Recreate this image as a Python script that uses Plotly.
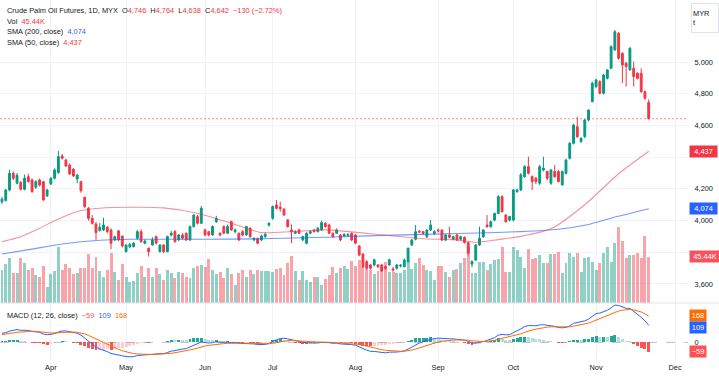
import plotly.graph_objects as go

# ---------------- data ----------------
n_bars = 173
bar_index = list(range(n_bars))

opens = [4118, 4127, 4193, 4298, 4235, 4240, 4197, 4277, 4256, 4210, 4256, 4245, 4155, 4230, 4267, 4302, 4407, 4382, 4350, 4324,
         4262, 4245, 4147, 4078, 4014, 3978, 3937, 3941, 3958, 3941, 3878, 3935, 3902, 3804, 3835, 3836, 3888, 3930, 3857, 3825,
         3846, 3899, 3804, 3846, 3804, 3909, 3930, 3878, 3909, 3920, 3878, 3962, 4025, 3983, 3941, 3930, 3909, 3993, 3920, 3962,
         3920, 3993, 3930, 3920, 3930, 3909, 3951, 3878, 3888, 3878, 3899, 3972, 4014, 4098, 4085, 4071, 4004, 3941, 3920, 3941,
         3878, 3857, 3920, 3941, 3930, 3941, 3983, 3972, 3920, 3920, 3909, 3903, 3905, 3920, 3909, 3840, 3789, 3741, 3720, 3720,
         3720, 3720, 3709, 3720, 3695, 3699, 3713, 3709, 3741, 3846, 3882, 3932, 3930, 3898, 3940, 3919, 3940, 3940, 3877, 3909,
         3882, 3909, 3882, 3894, 3861, 3725, 3751, 3846, 3898, 3972, 3961, 4003, 4045, 4151, 4035, 4003, 4003, 4182, 4193, 4277,
         4340, 4277, 4267, 4235, 4319, 4309, 4235, 4309, 4309, 4225, 4298, 4393, 4487, 4592, 4498, 4529, 4634, 4750, 4845, 4876,
         4803, 4897, 4960, 5076, 5181, 5055, 4992, 4950, 4960, 4929, 4929, 4813, 4746]
highs = [4150, 4200, 4320, 4310, 4300, 4250, 4290, 4295, 4265, 4255, 4265, 4250, 4200, 4275, 4330, 4439, 4420, 4390, 4360, 4330,
         4295, 4250, 4150, 4085, 4035, 3990, 3985, 4018, 3965, 3950, 3905, 3940, 3905, 3850, 3860, 3865, 3940, 3945, 3880, 3830,
         3895, 3905, 3850, 3850, 3905, 3935, 3940, 3915, 3920, 3925, 3970, 4040, 4035, 4092, 3950, 3935, 3970, 4030, 3925, 3970,
         3975, 4000, 3950, 3925, 3940, 3965, 3960, 3895, 3890, 3910, 3925, 3990, 4095, 4130, 4119, 4080, 4010, 3975, 3940, 3950,
         3905, 3925, 3940, 3945, 3960, 4000, 3990, 3980, 3925, 3950, 3915, 3920, 3920, 3925, 3915, 3845, 3795, 3750, 3725, 3760,
         3725, 3725, 3715, 3760, 3709, 3725, 3725, 3760, 3830, 3885, 3972, 3940, 3935, 3945, 4003, 3940, 3950, 3945, 3915, 3961,
         3905, 3915, 3905, 3900, 3865, 3750, 3850, 3961, 3945, 4035, 4000, 4050, 4160, 4160, 4040, 4030, 4200, 4200, 4300, 4350,
         4403, 4285, 4275, 4351, 4403, 4315, 4325, 4351, 4320, 4315, 4390, 4495, 4610, 4655, 4525, 4640, 4700, 4875, 4895, 4885,
         4925, 4955, 5105, 5202, 5190, 5060, 5000, 5095, 5002, 4935, 4960, 4820, 4764]
lows = [4105, 4120, 4185, 4255, 4228, 4190, 4190, 4240, 4175, 4200, 4215, 4125, 4150, 4225, 4260, 4295, 4385, 4338, 4288, 4275,
        4235, 4175, 4080, 4000, 3975, 3878, 3930, 3935, 3920, 3819, 3870, 3870, 3830, 3798, 3825, 3830, 3880, 3860, 3850, 3773,
        3840, 3850, 3798, 3795, 3800, 3900, 3860, 3870, 3880, 3870, 3870, 3955, 3975, 3980, 3900, 3900, 3905, 3985, 3900, 3915,
        3915, 3935, 3920, 3870, 3900, 3905, 3890, 3870, 3850, 3870, 3890, 3960, 4005, 4070, 4055, 4030, 3955, 3857, 3915, 3915,
        3870, 3850, 3915, 3925, 3925, 3935, 3955, 3915, 3890, 3915, 3870, 3895, 3900, 3870, 3850, 3775, 3700, 3690, 3690, 3710,
        3700, 3675, 3690, 3715, 3678, 3690, 3705, 3705, 3735, 3840, 3875, 3920, 3910, 3890, 3935, 3910, 3925, 3870, 3870, 3888,
        3875, 3870, 3875, 3855, 3780, 3705, 3745, 3840, 3890, 3955, 3955, 3995, 4040, 4050, 3985, 3995, 3995, 4175, 4185, 4270,
        4290, 4193, 4230, 4225, 4310, 4255, 4225, 4270, 4240, 4220, 4290, 4385, 4480, 4520, 4490, 4520, 4625, 4745, 4835, 4795,
        4795, 4890, 4955, 5070, 5015, 4866, 4845, 4945, 4845, 4890, 4805, 4760, 4638]
closes = [4135, 4193, 4298, 4267, 4285, 4197, 4267, 4245, 4182, 4245, 4224, 4130, 4193, 4267, 4319, 4403, 4393, 4344, 4294, 4281,
          4287, 4188, 4088, 4014, 3983, 3924, 3958, 3972, 3930, 3857, 3898, 3878, 3840, 3846, 3850, 3857, 3930, 3867, 3871, 3804,
          3878, 3857, 3846, 3804, 3899, 3920, 3867, 3909, 3888, 3878, 3962, 4035, 3983, 4077, 3909, 3909, 3962, 4014, 3909, 3920,
          3962, 3941, 3941, 3878, 3909, 3962, 3899, 3888, 3857, 3903, 3913, 3983, 4088, 4077, 4075, 4035, 3962, 3930, 3930, 3920,
          3899, 3920, 3930, 3930, 3951, 3987, 3962, 3920, 3899, 3941, 3878, 3913, 3913, 3878, 3857, 3783, 3709, 3699, 3699, 3752,
          3709, 3684, 3699, 3752, 3688, 3720, 3718, 3751, 3825, 3877, 3930, 3928, 3919, 3940, 3972, 3930, 3935, 3877, 3909, 3894,
          3898, 3877, 3898, 3861, 3795, 3741, 3846, 3888, 3940, 3961, 3993, 4045, 4151, 4056, 3993, 4025, 4193, 4193, 4288, 4340,
          4298, 4246, 4246, 4340, 4330, 4267, 4319, 4277, 4246, 4309, 4382, 4487, 4603, 4529, 4519, 4634, 4697, 4866, 4887, 4803,
          4918, 4950, 5097, 5191, 5023, 4981, 4971, 5086, 4908, 4897, 4813, 4772, 4642]
volumes_k = [32, 38, 44, 29, 29, 44, 39, 32, 34, 27, 26, 36, 16, 28, 31, 55, 32, 38, 34, 28,
             29, 34, 34, 48, 34, 45, 31, 26, 32, 49, 30, 23, 38, 26, 21,
             22, 29, 36, 26, 34, 26, 34, 28, 23, 32, 29, 25, 30, 29, 26, 25, 34, 36, 37, 35,
             43, 32, 28, 30, 25, 34, 28, 18, 29, 32, 26, 32, 28, 32,
             31, 31, 31, 30, 33, 34, 27, 39, 46, 31, 23, 31, 23, 21, 26, 26, 18, 24, 27, 35,
             29, 34, 36, 33, 41, 36, 42, 35, 33, 32, 28, 31, 35, 40,
             30, 30, 29, 29, 32, 41, 33, 39, 44, 37, 32, 31, 23, 36, 36, 30, 26, 32, 33, 39,
             44, 55, 29, 29, 40, 40, 32, 38, 42, 43, 55, 30, 30, 55, 52,
             45.5, 34, 52.7, 42.9, 43.8, 47.1, 39.6, 38.9, 48.1, 48.1, 50.4, 29.1, 39.6, 48.7, 44.8,
             48.7, 30.8, 43.8, 45.5, 40.6, 32.4, 38.9, 48.7, 55.3, 40.6, 58.5, 74.2, 61.2, 43.8, 46.8,
             46.8, 49.4, 44.5, 65.7, 45.44]

# moving averages (bar index -> value)
sma200_idx = [0, 8, 16, 26, 34, 52, 69, 86, 104, 121, 138, 148, 156, 162, 172]
sma200_val = [3789, 3820, 3852, 3876, 3882, 3882, 3885, 3895, 3908, 3918, 3930, 3945, 3975, 4015, 4074]
sma50_idx = [0, 5, 10, 15, 21, 26, 34, 43, 52, 61, 69, 77, 86, 95, 104, 112, 121, 126, 132, 138, 146, 155, 164, 172]
sma50_val = [3867, 3898, 3951, 4010, 4063, 4078, 4084, 4080, 4046, 3983, 3924, 3930, 3941, 3924, 3903, 3885, 3878, 3862,
             3880, 3900, 3948, 4100, 4295, 4437]

# MACD state before the first visible bar
ema12_seed = 4085
ema26_seed = 4027
signal_seed = 48

month_ticks = [13, 33, 54, 72, 94, 116, 136, 158, 179]
month_labels = ["Apr", "May", "Jun", "Jul", "Aug", "Sep", "Oct", "Nov", "Dec"]
price_ticks = [3600, 3800, 4000, 4200, 4400, 4600, 4800, 5000]
# 3,800 and 4,400 sit behind the value badges on the reference scale
price_labels = ["3,600", "", "4,000", "4,200", "", "4,600", "4,800", "5,000"]

last_close = 4642
macd_last, signal_last, hist_last = 109, 168, -59

# ---------------- styling ----------------
UP = "#089981"
DOWN = "#F23645"
TXT = "#131722"
FONT = "Liberation Sans, Arial, sans-serif"
FS = 7.4
W, H = 719, 379
PLOT_RIGHT = 688 / W
PRICE_DOM = [1 - 303 / H, 1]
MACD_DOM = [1 - 362 / H, 1 - 303 / H]


def ema(values, period, seed):
    k = 2.0 / (period + 1)
    out, prev = [], seed
    for v in values:
        prev = prev + k * (v - prev)
        out.append(prev)
    return out


ema12 = ema(closes, 12, ema12_seed)
ema26 = ema(closes, 26, ema26_seed)
macd_line = [a - b for a, b in zip(ema12, ema26)]
signal_line = ema(macd_line, 9, signal_seed)
hist = [m - s for m, s in zip(macd_line, signal_line)]
hist_colors = []
prev = hist[0]
for h in hist:
    if h >= 0:
        hist_colors.append("#26A69A" if h >= prev else "#B2DFDB")
    else:
        hist_colors.append("#FF5252" if h <= prev else "#FFCDD2")
    prev = h

vol_colors = ["rgba(8,153,129,0.45)" if c >= o else "rgba(242,54,69,0.45)" for o, c in zip(opens, closes)]

fig = go.Figure()
fig.add_trace(go.Bar(x=bar_index, y=volumes_k, marker=dict(color=vol_colors, line=dict(width=0)),
                     width=0.78, xaxis="x", yaxis="y", hoverinfo="skip"))
fig.add_trace(go.Scatter(x=sma200_idx, y=sma200_val, mode="lines",
                         line=dict(color="rgba(41,98,255,0.65)", width=1.1, shape="spline", smoothing=0.6),
                         xaxis="x", yaxis="y3", hoverinfo="skip"))
fig.add_trace(go.Scatter(x=sma50_idx, y=sma50_val, mode="lines",
                         line=dict(color="rgba(242,54,69,0.55)", width=1.1, shape="spline", smoothing=0.6),
                         xaxis="x", yaxis="y3", hoverinfo="skip"))
fig.add_trace(go.Candlestick(x=bar_index, open=opens, high=highs, low=lows, close=closes,
                             increasing=dict(line=dict(color=UP, width=1), fillcolor=UP),
                             decreasing=dict(line=dict(color=DOWN, width=1), fillcolor=DOWN),
                             xaxis="x", yaxis="y3", hoverinfo="skip"))
fig.add_trace(go.Bar(x=bar_index, y=hist, marker=dict(color=hist_colors, line=dict(width=0)),
                     width=0.78, xaxis="x2", yaxis="y2", hoverinfo="skip"))
fig.add_trace(go.Scatter(x=bar_index, y=macd_line, mode="lines", line=dict(color="#2962FF", width=1),
                         xaxis="x2", yaxis="y2", hoverinfo="skip"))
fig.add_trace(go.Scatter(x=bar_index, y=signal_line, mode="lines", line=dict(color="#FF6D00", width=1),
                         xaxis="x2", yaxis="y2", hoverinfo="skip"))

xcommon = dict(range=[-0.53, 182.45], domain=[0, PLOT_RIGHT], tickvals=month_ticks, ticktext=month_labels,
               showgrid=True, gridcolor="#F0F3FA", gridwidth=1, zeroline=False, showline=False,
               rangeslider=dict(visible=False), fixedrange=True)

fig.update_layout(
    width=W, height=H, margin=dict(l=0, r=0, t=0, b=0),
    paper_bgcolor="white", plot_bgcolor="white", showlegend=False,
    font=dict(family=FONT, size=FS, color=TXT),
    bargap=0, hovermode=False,
    xaxis=dict(**xcommon, anchor="y", showticklabels=False),
    xaxis2=dict(**xcommon, anchor="y2", matches="x", showticklabels=True, ticks="",
                tickfont=dict(size=FS, color=TXT, family=FONT)),
    yaxis=dict(domain=PRICE_DOM, range=[0, 297.4], visible=False, showgrid=False, anchor="x", fixedrange=True),
    yaxis3=dict(overlaying="y", anchor="x", side="right", range=[3480, 5391], tickvals=price_ticks,
                ticktext=price_labels, showgrid=True, gridcolor="#F0F3FA", zeroline=False, showline=False,
                ticks="outside", ticklen=4, tickcolor="rgba(0,0,0,0)",
                tickfont=dict(size=FS, color=TXT, family=FONT), fixedrange=True),
    yaxis2=dict(domain=MACD_DOM, anchor="x2", side="right", range=[-124, 250], tickvals=[0], ticktext=["0"],
                showgrid=False, zeroline=False, showline=False, ticks="outside", ticklen=4,
                tickcolor="rgba(0,0,0,0)", tickfont=dict(size=FS, color=TXT, family=FONT), fixedrange=True),
)

shapes = [
    # last price dotted line
    dict(type="line", xref="x", yref="y3", x0=-0.53, x1=182.45, y0=last_close, y1=last_close,
         line=dict(color="rgba(242,54,69,0.7)", width=0.8, dash="2px,2px")),
    # MACD zero line
    dict(type="line", xref="x2", yref="y2", x0=-0.53, x1=182.45, y0=0, y1=0,
         line=dict(color="rgba(120,123,134,0.45)", width=1, dash="dash")),
    # pane separator
    dict(type="line", xref="paper", yref="paper", x0=0, x1=1, y0=PRICE_DOM[0], y1=PRICE_DOM[0],
         line=dict(color="#E0E3EB", width=1)),
]
fig.update_layout(shapes=shapes)

R = "#F23645"


def span(t, c):
    return '<span style="color:%s">%s</span>' % (c, t)


sp = "&nbsp;"
legend_lines = [
    ("Crude Palm Oil Futures, 1D, MYX" + sp * 2 + "O" + span("4,746", R) + sp + " H" + span("4,764", R) + sp +
     " L" + span("4,638", R) + sp + " C" + span("4,642", R) + sp + " " + span("−130 (−2.72%)", R), 11),
    ("Vol" + sp + " " + span("45.44K", R), 21.5),
    ("SMA (200, close)" + sp + " " + span("4,074", "#2962FF"), 32),
    ("SMA (50, close)" + sp + " " + span("4,437", R), 42.5),
    ("MACD (12, 26, close)" + sp + " " + span("−59", "#FF5252") + sp + " " + span("109", "#2962FF") + sp + " " +
     span("168", "#FF6D00"), 315),
]
annotations = []
for text, ypx in legend_lines:
    annotations.append(dict(xref="paper", yref="paper", x=5 / W, y=1 - ypx / H, xanchor="left", yanchor="middle",
                            text=text, showarrow=False, font=dict(size=FS, color=TXT, family=FONT)))


def box(text, yref, yval, color, width, yshift=0):
    return dict(xref="paper", yref=yref, x=PLOT_RIGHT + 0.5 / W, y=yval, xanchor="left", yanchor="middle",
                text=text, showarrow=False, bgcolor=color, font=dict(size=FS, color="white", family=FONT),
                width=width, height=9, align="center", borderpad=1, yshift=yshift)


annotations += [
    box("4,437", "y3", sma50_val[-1], R, 25),
    box("4,074", "y3", sma200_val[-1], "#2962FF", 25),
    box("45.44K", "y", volumes_k[-1], "#F7525F", 28),
    box(str(signal_last), "y2", signal_last, "#FF6D00", 14),
    box(str(macd_last), "y2", macd_last, "#2962FF", 14, yshift=-2),
    box("−59", "y2", hist_last, "#FF5252", 14),
    dict(xref="paper", yref="paper", x=691 / W, y=1 - 3 / H, xanchor="left", yanchor="top",
         text="MYR<br>t", showarrow=False, bgcolor="white", bordercolor="#E0E3EB", borderwidth=1,
         font=dict(size=FS, color=TXT, family=FONT), align="left", width=24, height=26, borderpad=1),
]
fig.update_layout(annotations=annotations)

fig.write_html("out.html", config={"displayModeBar": False, "staticPlot": True},
               post_script="document.body.style.margin='0';")
